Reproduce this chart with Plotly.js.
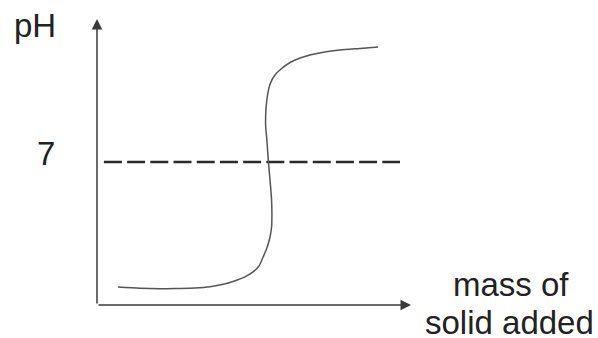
<!DOCTYPE html>
<html>
<head>
<meta charset="utf-8">
<script src="https://cdn.plot.ly/plotly-3.0.1.min.js"></script>
<style>html,body{margin:0;padding:0;background:#fff;}#chart{width:598px;height:338px;}</style>
</head>
<body>
<div id="chart"></div>
<script>
// Curve: pH versus mass of solid added (arbitrary units, sketch)
const massAdded = [0.67,1.37,2.01,2.55,3.12,3.60,3.98,4.33,4.68,4.97,5.16,5.29,5.41,5.51,5.56,5.57,5.56,5.51,5.46,5.41,5.37,5.38,5.41,5.46,5.54,5.67,5.86,6.15,6.47,6.78,7.26,7.74,8.38,8.95];
const pHValues  = [0.88,0.82,0.80,0.81,0.83,0.89,1.00,1.15,1.35,1.62,1.91,2.35,2.79,3.33,3.82,4.31,5.14,6.12,7.00,8.08,8.81,9.55,10.04,10.52,10.92,11.26,11.55,11.87,12.09,12.24,12.39,12.48,12.56,12.63];
// Neutral reference line at pH 7
const neutralX = [0.22, 9.65];
const neutralY = [7, 7];
// Axis extents
const xMax = 10;
const yMax = 14;
// Labels
const yLabel = "pH";
const refLabel = "7";
const xLabelLines = ["mass of", "solid added"];

const font = "Arial, 'Liberation Sans', Helvetica, sans-serif";
const axisColor = "#3a3a3a";

const traces = [
  {x: neutralX, y: neutralY, mode: "lines", line: {color: "#2a2a2a", width: 2.3, dash: "18px,5.2px"}, hoverinfo: "skip"},
  {x: massAdded, y: pHValues, mode: "lines", line: {color: "#555", width: 1.5, shape: "spline", smoothing: 0.8}, hoverinfo: "skip"}
];

const layout = {
  width: 598, height: 338,
  margin: {l: 97, r: 187, t: 19, b: 33},
  paper_bgcolor: "#fff", plot_bgcolor: "#fff",
  showlegend: false,
  xaxis: {range: [0, xMax], visible: false, fixedrange: true},
  yaxis: {range: [0, yMax], visible: false, fixedrange: true},
  annotations: [
    {x: 0, y: yMax, ax: 0, ay: 0, xref: "x", yref: "y", axref: "x", ayref: "y", text: "", showarrow: true, arrowhead: 2, arrowsize: 1.4, arrowwidth: 1.5, arrowcolor: axisColor, standoff: 0},
    {x: xMax, y: 0, ax: 0, ay: 0, xref: "x", yref: "y", axref: "x", ayref: "y", text: "", showarrow: true, arrowhead: 2, arrowsize: 1.4, arrowwidth: 1.5, arrowcolor: axisColor, standoff: 0},
    {x: -0.2707, y: 0.979, xref: "paper", yref: "paper", text: yLabel, showarrow: false, xanchor: "left", yanchor: "middle", font: {family: font, size: 33, color: "#222"}},
    {x: -0.1624, y: 0.528, xref: "paper", yref: "paper", text: refLabel, showarrow: false, xanchor: "center", yanchor: "middle", font: {family: font, size: 33, color: "#222"}},
    {x: 1.32, y: 0.07, xref: "paper", yref: "paper", text: xLabelLines[0], showarrow: false, xanchor: "center", yanchor: "middle", font: {family: font, size: 33, color: "#222"}},
    {x: 1.315, y: -0.06, xref: "paper", yref: "paper", text: xLabelLines[1], showarrow: false, xanchor: "center", yanchor: "middle", font: {family: font, size: 33, color: "#222"}}
  ]
};

Plotly.newPlot("chart", traces, layout, {staticPlot: true, displayModeBar: false});
</script>
</body>
</html>
